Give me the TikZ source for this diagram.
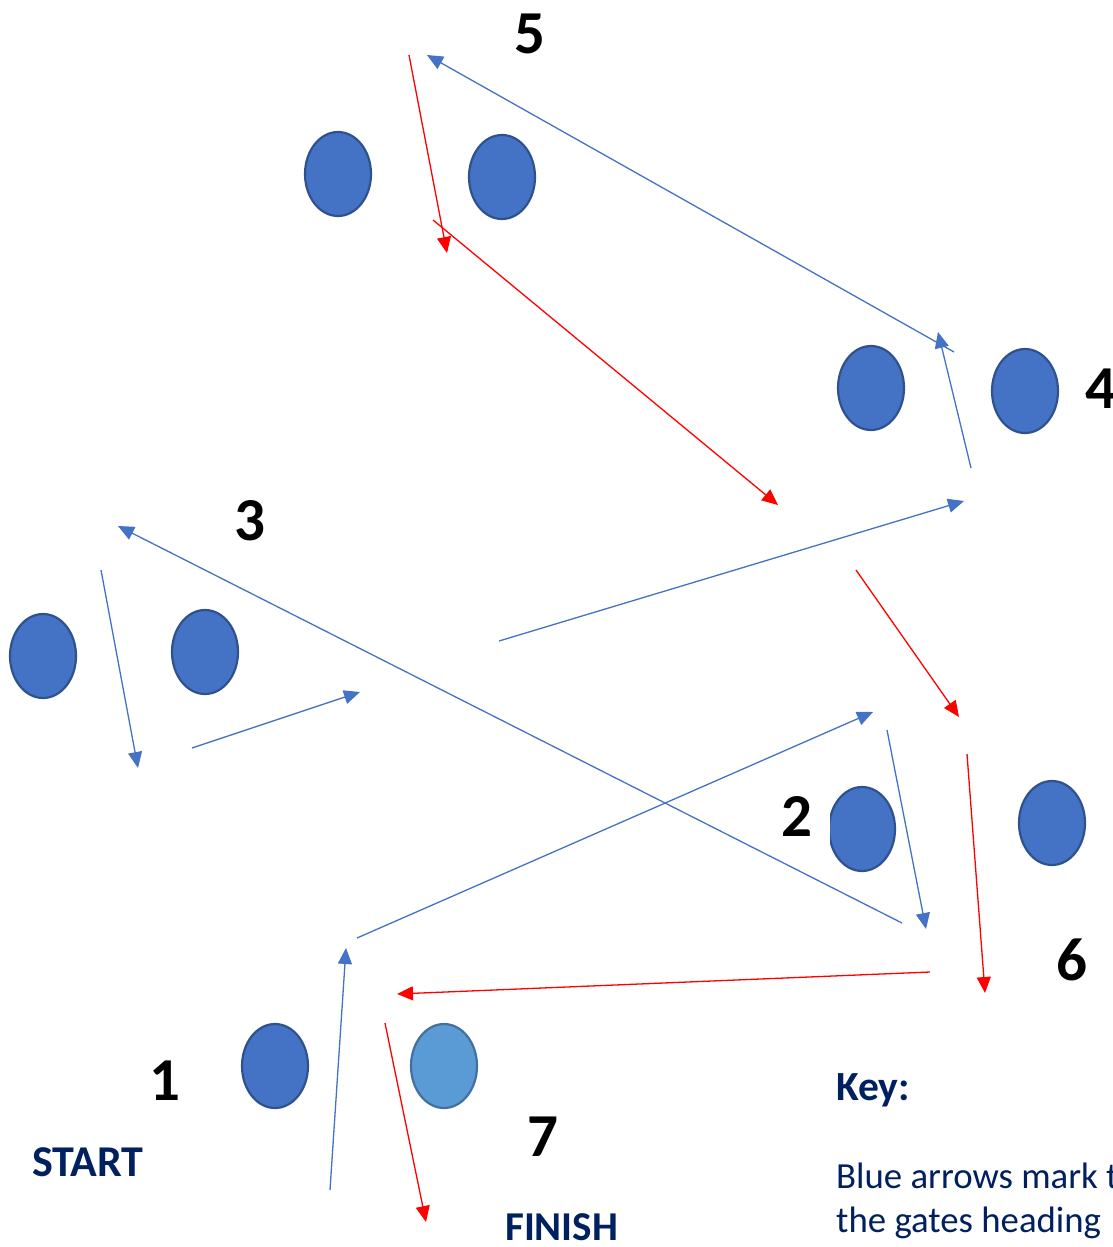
\documentclass[tikz,border=0pt]{standalone}
\usepackage{fontspec}
\setmainfont{Carlito}
\usetikzlibrary{shapes.geometric,arrows.meta}
\definecolor{gateblue}{HTML}{4472C4}
\definecolor{gateedge}{HTML}{2F528F}
\definecolor{finblue}{HTML}{5B9BD5}
\definecolor{finedge}{HTML}{41719C}
\definecolor{navy}{HTML}{002060}
\definecolor{redline}{HTML}{FF0000}
\tikzset{
  gate/.style={ellipse, draw=gateedge, fill=gateblue, line width=2.2pt,
    minimum width=66pt, minimum height=84pt, inner sep=0pt},
  fingate/.style={gate, draw=finedge, fill=finblue},
  num/.style={font=\bfseries\fontsize{61}{61}\selectfont, text=black, inner sep=0pt, anchor=base},
  lbl/.style={font=\bfseries\fontsize{41}{41}\selectfont, text=navy, inner sep=0pt, anchor=base west},
  keytext/.style={font=\fontsize{36.8}{36.8}\selectfont, text=navy, inner sep=0pt, anchor=base west},
  bluearrow/.style={draw=gateblue, line width=1.3pt, -{Triangle[length=16pt,width=14pt]}},
  redarrow/.style={draw=redline, line width=1.3pt, -{Triangle[length=16pt,width=14pt]}},
}
\begin{document}
\begin{tikzpicture}[x=1pt,y=-1pt]
\useasboundingbox (0,0) rectangle (1113,1247);
\fill[white] (0,0) rectangle (1113,1247);

% gates
\node[gate] (g5l) at (338,174) {};
\node[gate] (g5r) at (502,177) {};
\node[gate] (g4l) at (871,388) {};
\node[gate] (g4r) at (1025,391) {};
\node[gate] (g3l) at (43,656) {};
\node[gate] (g3r) at (205,652) {};
\begin{scope}
  \clip (830,700) rectangle (960,960);
  \node[gate] (g2l) at (862,829) {};
\end{scope}
\node[gate] (g6r) at (1052,823) {};
\node[gate] (g1) at (275,1066) {};
\node[fingate] (g7) at (444,1066) {};

% numbers
\node[num] (n5) at (530,53) {5};
\node[num, anchor=base west] (n4) at (1085,408) {4};
\node[num] (n3) at (250,540) {3};
\node[num] (n2) at (797,836) {2};
\node[num] (n6) at (1072,980) {6};
\node[num] (n1) at (165,1100) {1};
\node[num] (n7) at (543,1156) {7};

% labels
\node[lbl, font=\bfseries\fontsize{44}{44}\selectfont] (start) at (32,1176) {START};
\node[lbl] (finish) at (505,1240) {FINISH};
\node[font=\bfseries\fontsize{41.5}{41.5}\selectfont, text=navy, inner sep=0pt, anchor=base west] (key) at (836,1100) {Key:};
\node[keytext] (k1) at (836,1188) {Blue arrows mark t};
\node[keytext] (k2) at (836,1232) {the gates heading};

% arrow end points
\coordinate (b1s) at (330,1190); \coordinate (b1e) at (346,948);
\coordinate (b2s) at (357,938);  \coordinate (b2e) at (873,712);
\coordinate (b3s) at (887,730);  \coordinate (b3e) at (926,929);
\coordinate (b4s) at (902,923);  \coordinate (b4e) at (118,526);
\coordinate (b5s) at (101,570);  \coordinate (b5e) at (138,768);
\coordinate (b6s) at (192,748);  \coordinate (b6e) at (360,692);
\coordinate (b7s) at (499,641);  \coordinate (b7e) at (964,501);
\coordinate (b8s) at (971,468);  \coordinate (b8e) at (938,332);
\coordinate (b9s) at (954,352);  \coordinate (b9e) at (427,55);

\coordinate (r1s) at (409,55);   \coordinate (r1e) at (447,253);
\coordinate (r2s) at (433,220);  \coordinate (r2e) at (778,505);
\coordinate (r3s) at (856,570);  \coordinate (r3e) at (959,717);
\coordinate (r4s) at (967,754);  \coordinate (r4e) at (985,993);
\coordinate (r5s) at (930,972);  \coordinate (r5e) at (397,994);
\coordinate (r6s) at (385,1023); \coordinate (r6e) at (426,1222);

% blue arrows
\draw[bluearrow] (b1s) -- (b1e);
\draw[bluearrow] (b2s) -- (b2e);
\draw[bluearrow] (b3s) -- (b3e);
\draw[bluearrow] (b4s) -- (b4e);
\draw[bluearrow] (b5s) -- (b5e);
\draw[bluearrow] (b6s) -- (b6e);
\draw[bluearrow] (b7s) -- (b7e);
\draw[bluearrow] (b8s) -- (b8e);
\draw[bluearrow] (b9s) -- (b9e);

% red arrows
\draw[redarrow] (r1s) -- (r1e);
\draw[redarrow] (r2s) -- (r2e);
\draw[redarrow] (r3s) -- (r3e);
\draw[redarrow] (r4s) -- (r4e);
\draw[redarrow] (r5s) -- (r5e);
\draw[redarrow] (r6s) -- (r6e);
\end{tikzpicture}
\end{document}
